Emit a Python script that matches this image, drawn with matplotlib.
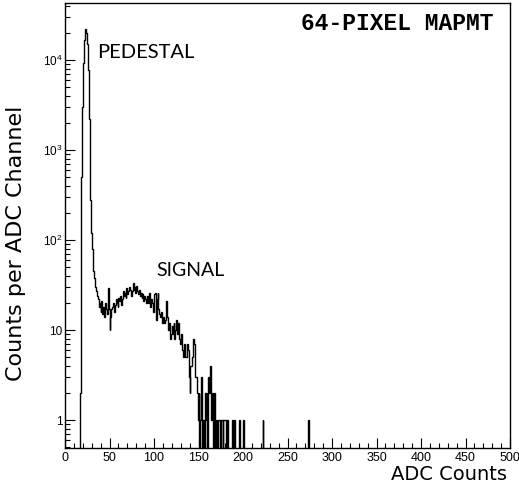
import numpy as np
import matplotlib
matplotlib.use("Agg")
import matplotlib.pyplot as plt
from matplotlib.ticker import FixedLocator, MultipleLocator, NullFormatter

# ---- data (1 ADC count per bin) ----
first_bin = 17
counts = [
    2, 500, 3000, 9300, 16700, 21500, 22000, 20000, 15000, 7700,        # 17-26
    2200, 280, 120, 80, 60, 45, 38, 30, 27, 24,                          # 27-36
    22, 18, 20, 16, 21, 15, 18, 14, 20, 17,                              # 37-46
    15, 29, 17, 10, 14, 17, 18, 20, 16, 19,                              # 47-56
    22, 20, 18, 23, 21, 24, 19, 22, 27, 24,                              # 57-66
    26, 23, 29, 25, 27, 30, 28, 24, 27, 33,                              # 67-76
    28, 30, 26, 31, 27, 25, 28, 24, 26, 23,                              # 77-86
    25, 21, 24, 22, 20, 24, 20, 26, 21, 18,                              # 87-96
    22, 20, 16, 25, 26, 13, 22, 26, 17, 15,                              # 97-106
    14, 16, 12, 14, 12, 13, 18, 21, 14, 10,                              # 107-116
    12, 8, 9, 11, 9, 12, 8, 10, 13, 9,                                   # 117-126
    12, 8, 7, 9, 6, 6, 5, 7, 5, 5,                                       # 127-136
    7, 6, 3, 2, 4, 4, 5, 8, 7, 3,                                        # 137-146
    3, 2, 1, 2, 0, 1, 3, 0, 1, 0,                                        # 147-156
    2, 1, 2, 0, 3, 2, 4, 1, 2, 0,                                        # 157-166
    2, 1, 0, 1, 0, 1, 1, 0, 1, 1,                                        # 167-176
    0, 1, 1, 1, 0, 1, 0, 0, 0, 0,                                        # 177-186
    0, 1, 0, 1, 0, 0, 0, 0, 0, 1,                                        # 187-196
]
tail_bins = [200, 222, 273]
tail_counts = [1, 1, 1]

n_bins = 500
x_min, x_max = 0, 500
y_min, y_max = 0.49, 4.3e4
xticks = list(range(0, 501, 50))
ytick_vals = [1, 10, 100, 1000, 10000]
ytick_labels = ["1", "10", r"$10^{2}$", r"$10^{3}$", r"$10^{4}$"]

# ---- build histogram ----
hist = np.zeros(n_bins)
hist[first_bin:first_bin + len(counts)] = counts
for b, c in zip(tail_bins, tail_counts):
    hist[b] = c
edges = np.arange(n_bins + 1)
draw_vals = np.where(hist > 0, hist, y_min * 0.5)

plt.rcParams["mathtext.fontset"] = "custom"
plt.rcParams["mathtext.rm"] = "Liberation Sans"

fig = plt.figure(figsize=(5.19, 4.91), dpi=100)
ax = fig.add_axes([65 / 519, 1 - 448 / 491, 445 / 519, 445 / 491])
ax.stairs(draw_vals, edges, color="black", lw=1.0, baseline=None)

ax.set_yscale("log")
ax.set_xlim(x_min, x_max)
ax.set_ylim(y_min, y_max)

for s in ax.spines.values():
    s.set_linewidth(1.0)

ax.xaxis.set_major_locator(FixedLocator(xticks))
ax.xaxis.set_minor_locator(MultipleLocator(10))
ax.yaxis.set_major_locator(FixedLocator(ytick_vals))
ax.set_yticklabels(ytick_labels)
ax.yaxis.set_minor_locator(matplotlib.ticker.LogLocator(base=10, subs=np.arange(2, 10), numticks=20))
ax.yaxis.set_minor_formatter(NullFormatter())

ax.tick_params(axis="both", which="both", direction="in", top=False, right=False, width=0.8)
ax.tick_params(axis="x", which="major", length=7, labelsize=9, pad=3)
ax.tick_params(axis="x", which="minor", length=3.5)
ax.tick_params(axis="y", which="major", length=7, labelsize=8.5, pad=2)
ax.tick_params(axis="y", which="minor", length=3.5)
for lbl in ax.get_xticklabels() + ax.get_yticklabels():
    lbl.set_fontfamily("Liberation Sans")

fig.text(16 / 519, 1 - 243 / 491, "Counts per ADC Channel", rotation=90,
         ha="center", va="center", fontsize=16, family="DejaVu Sans")
fig.text(507 / 519, 1 - 475 / 491, "ADC Counts", ha="right", va="center",
         fontsize=14, family="DejaVu Sans")

ax.text(0.072, 0.888, "PEDESTAL", transform=ax.transAxes, fontsize=14.5,
        family="Lato", color="black", ha="left", va="center")
ax.text(0.2045, 0.40, "SIGNAL", transform=ax.transAxes, fontsize=14,
        family="Lato", color="black", ha="left", va="center")
ax.text(0.964, 0.953, "64-PIXEL MAPMT", transform=ax.transAxes, fontsize=16.5,
        family="Liberation Mono", fontweight="bold", ha="right", va="center")

fig.savefig("out.png", dpi=100)
